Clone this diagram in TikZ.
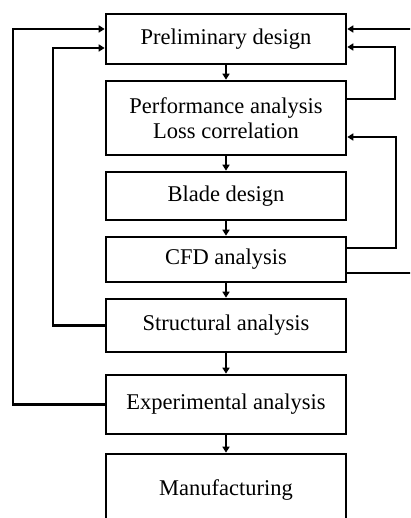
\documentclass[tikz,border=0pt]{standalone}
\usepackage{fontspec}
\setmainfont{Liberation Serif}
\usetikzlibrary{arrows.meta}

\begin{document}
\begin{tikzpicture}[x=1pt,y=-1pt,
    stepbox/.style={draw,line width=2.6pt,minimum width=240pt,align=center,
        font=\fontsize{22.5}{25}\selectfont},
    flowline/.style={line width=2.5pt,-{Triangle[length=6pt,width=7pt]}}]
    \useasboundingbox (0,0) rectangle (410,518);
    \clip (0,0) rectangle (410,518);

    % Boxes of the design loop
    \node[stepbox, minimum height=50pt] (prelim) at (226,39) {Preliminary design};
    \node[stepbox, minimum height=74pt] (perf) at (226,118) {Performance analysis\\Loss correlation};
    \node[stepbox, minimum height=48pt] (blade) at (226,196) {Blade design};
    \node[stepbox, minimum height=45pt] (cfd) at (226,259.5) {CFD analysis};
    \node[stepbox, minimum height=53pt] (struct) at (226,325.5) {Structural analysis};
    \node[stepbox, minimum height=59pt] (exper) at (226,404.5) {Experimental analysis};
    \node[stepbox, minimum height=72pt] (manuf) at (226,490) {Manufacturing};

    % Downward flow
    \draw[flowline] (prelim) -- (perf);
    \draw[flowline] (perf) -- (blade);
    \draw[flowline] (blade) -- (cfd);
    \draw[flowline] (cfd) -- (struct);
    \draw[flowline] (struct) -- (exper);
    \draw[flowline] (exper) -- (manuf);

    % Feedback loops on the left
    \draw[flowline] (exper.west) -- (13,404.5) |- ([yshift=10pt]prelim.west);
    \draw[flowline] (struct.west) -- (53,325.5) |- ([yshift=-9pt]prelim.west);

    % Feedback loops on the right
    \coordinate (outer) at (420,29);
    \draw[flowline] (outer) -- ([yshift=10pt]prelim.east);
    \draw[line width=2.5pt] ([yshift=-13.5pt]cfd.east) -- ++(80,0);
    \draw[flowline] ([yshift=19pt]perf.east) -- (395,99) |- ([yshift=-8pt]prelim.east);
    \draw[flowline] ([yshift=11.5pt]cfd.east) -- (396,248) |- ([yshift=-19pt]perf.east);

\end{tikzpicture}
\end{document}
